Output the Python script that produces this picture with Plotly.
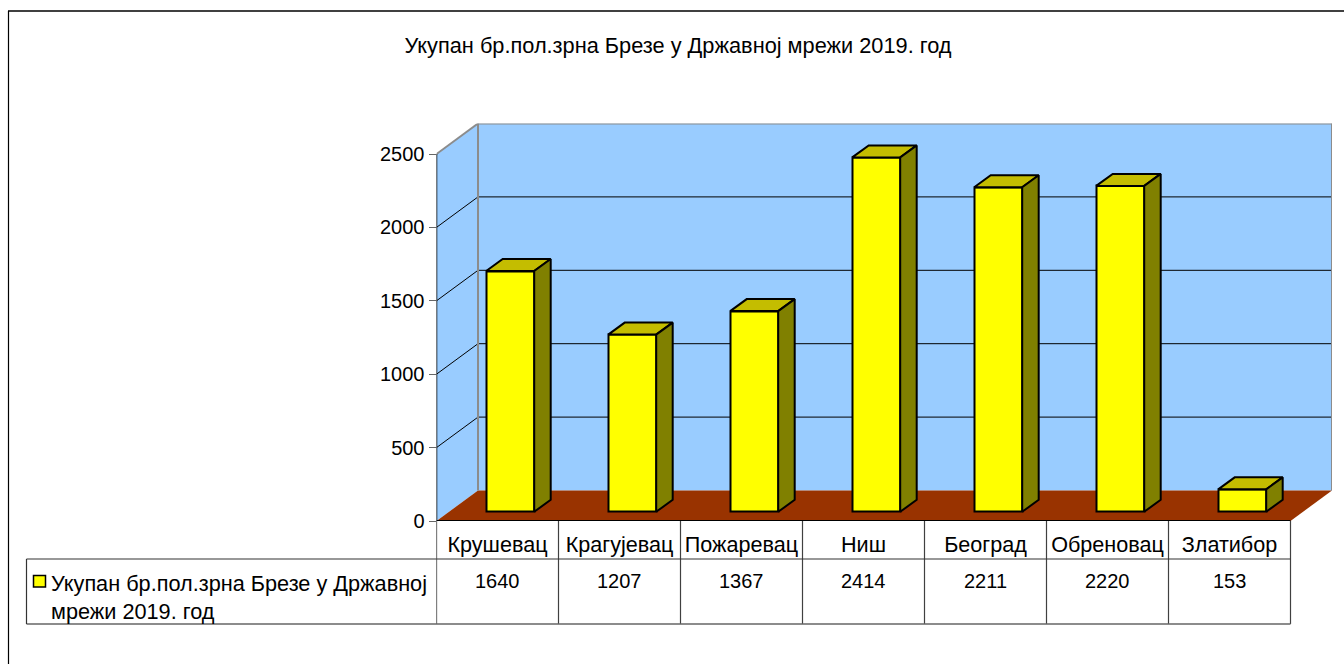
import plotly.graph_objects as go

categories = ["Крушевац", "Крагујевац", "Пожаревац", "Ниш", "Београд", "Обреновац", "Златибор"]
values = [1640, 1207, 1367, 2414, 2211, 2220, 153]
y_ticks = [0, 500, 1000, 1500, 2000, 2500]
series_name = "Укупан бр.пол.зрна Брезе у Државној<br>мрежи 2019. год"
title_text = "Укупан бр.пол.зрна Брезе у Државној мрежи 2019. год"

W, H = 1344, 664
FONT = "Liberation Sans"
# pixel geometry of the front plane of the 3D box
X0, CAT_W = 436.5, 122.0
Y0, PX_PER_UNIT = 521.0, 73.4 / 500
DEPTH_PX = (41.5, 30.5)
RIGHT_PX = X0 + 7 * CAT_W + DEPTH_PX[0]
TOP_PX = Y0 - (2500 * PX_PER_UNIT + DEPTH_PX[1])
xmax = (RIGHT_PX - X0) / CAT_W - 0.5
ymax = (Y0 - TOP_PX) / PX_PER_UNIT
DX = DEPTH_PX[0] / CAT_W
DY = DEPTH_PX[1] / PX_PER_UNIT
# bars inside the box
BAR_W = 48 / CAT_W
BAR_X = 12.7 / CAT_W
BAR_Y = 9.2 / PX_PER_UNIT
BAR_DX = 16.5 / CAT_W
BAR_DY = 12.0 / PX_PER_UNIT


def py(px):
    return 1 - px / H


def px_x(px):
    return px / W


WALL, EDGE = "#99CCFF", "#8c8c8c"
shapes = []


def poly(pts, fill, line="rgba(0,0,0,0)", width=0):
    d = "M " + " L ".join(f"{x},{y}" for x, y in pts) + " Z"
    shapes.append(dict(type="path", path=d, xref="x", yref="y", layer="below",
                       fillcolor=fill, line=dict(color=line, width=width)))


def seg(x0, y0, x1, y1, color, width, xref="x", yref="y", layer="below"):
    shapes.append(dict(type="line", x0=x0, y0=y0, x1=x1, y1=y1, xref=xref, yref=yref,
                       layer=layer, line=dict(color=color, width=width)))


xl, xr = -0.5, 6.5
poly([(xl, 0), (xl + DX, DY), (xl + DX, 2500 + DY), (xl, 2500)], WALL)
poly([(xl + DX, DY), (xr + DX, DY), (xr + DX, 2500 + DY), (xl + DX, 2500 + DY)], WALL)
poly([(xl, 0), (xr, 0), (xr + DX, DY), (xl + DX, DY)], "#993300")
for t in y_ticks[1:-1]:
    seg(xl, t, xl + DX, t + DY, "#000000", 1)
    seg(xl + DX, t + DY, xr + DX, t + DY, "#000000", 1)
seg(xl + DX, DY, xl + DX, 2500 + DY, EDGE, 2)
seg(xr + DX, DY, xr + DX, 2500 + DY, EDGE, 2)
seg(xl + DX, 2500 + DY, xr + DX, 2500 + DY, EDGE, 2)
seg(xl, 2500, xl + DX, 2500 + DY, EDGE, 2)
seg(xl, 0, xl, 2500, "#000000", 1.5, layer="above")

# data table under the chart
for i in range(8):
    seg(i - 0.5, py(521), i - 0.5, py(624), "#404040" if i else "#000000", 1.2, yref="paper", layer="above")
seg(xl, 0, xr, 0, "#000000", 2, layer="above")
seg(px_x(X0), py(559), px_x(X0 + 7 * CAT_W), py(559), "#333333", 1.2, "paper", "paper", "above")
seg(px_x(26.5), py(559), px_x(X0), py(559), "#333333", 1.2, "paper", "paper", "above")
seg(px_x(26.5), py(624), px_x(X0 + 7 * CAT_W), py(624), "#666666", 1.5, "paper", "paper", "above")
seg(px_x(26.5), py(559), px_x(26.5), py(624), "#333333", 1.2, "paper", "paper", "above")
# outer frame
seg(px_x(8), py(11), 1, py(11), "#404040", 2, "paper", "paper", "above")
seg(px_x(8.5), py(11), px_x(8.5), 0, "#000000", 1.2, "paper", "paper", "above")
# legend key
shapes.append(dict(type="rect", xref="paper", yref="paper", layer="above",
                   x0=px_x(33.5), x1=px_x(45.5), y0=py(587), y1=py(575.5),
                   fillcolor="#FFFF00", line=dict(color="#000000", width=1.5)))

fig = go.Figure()
bar_x = [i + BAR_X for i in range(len(values))]
fig.add_trace(go.Bar(x=bar_x, y=values, base=[BAR_Y] * len(values), width=BAR_W,
                     marker=dict(color="#FFFF00", line=dict(color="#000000", width=2)),
                     hoverinfo="y", showlegend=False))
for xc, v in zip(bar_x, values):
    a, b = xc - BAR_W / 2, xc + BAR_W / 2
    top = BAR_Y + v
    fig.add_trace(go.Scatter(
        x=[a, a + BAR_DX, b + BAR_DX, b, a],
        y=[top, top + BAR_DY, top + BAR_DY, top, top],
        mode="lines", fill="toself", fillcolor="#C4BD00",
        line=dict(color="#000000", width=2), showlegend=False, hoverinfo="skip"))
    fig.add_trace(go.Scatter(
        x=[b, b + BAR_DX, b + BAR_DX, b, b],
        y=[BAR_Y, BAR_Y + BAR_DY, top + BAR_DY, top, BAR_Y],
        mode="lines", fill="toself", fillcolor="#808000",
        line=dict(color="#000000", width=2), showlegend=False, hoverinfo="skip"))

annotations = [
    dict(text=str(v), x=i, y=py(581), xref="x", yref="paper", showarrow=False,
         xanchor="center", yanchor="middle",
         font=dict(family=FONT, size=20, color="#000000"))
    for i, v in enumerate(values)
]
annotations.append(dict(text=series_name, x=px_x(49), y=py(597), xref="paper", yref="paper",
                        xanchor="left", yanchor="middle", align="left", showarrow=False,
                        font=dict(family=FONT, size=21.7, color="#000000")))

fig.update_layout(
    width=W, height=H, margin=dict(l=0, r=0, t=0, b=0, autoexpand=False), autosize=False,
    paper_bgcolor="#FFFFFF", plot_bgcolor="rgba(0,0,0,0)", showlegend=False, bargap=0,
    title=dict(text=title_text, x=678 / W, xanchor="center", y=py(45.5), yanchor="middle",
               font=dict(family=FONT, size=21.75, color="#000000")),
    xaxis=dict(domain=[X0 / W, RIGHT_PX / W], range=[-0.5, xmax], tickmode="array",
               tickvals=list(range(len(categories))), ticktext=categories,
               ticks="outside", ticklen=4, tickcolor="rgba(0,0,0,0)", showgrid=False,
               zeroline=False, showline=False, tickangle=0,
               tickfont=dict(family=FONT, size=21.6, color="#000000")),
    yaxis=dict(domain=[1 - Y0 / H, 1 - TOP_PX / H], range=[0, ymax], tickmode="array",
               tickvals=y_ticks, ticks="outside", ticklen=7, tickwidth=1.2, tickcolor="#666666",
               showgrid=False, zeroline=False, showline=False,
               tickfont=dict(family=FONT, size=20, color="#000000")),
    shapes=shapes, annotations=annotations,
)
fig.write_html("out.html", config={"displayModeBar": False},
               post_script="document.body.style.margin='0';document.body.style.overflow='hidden';")
